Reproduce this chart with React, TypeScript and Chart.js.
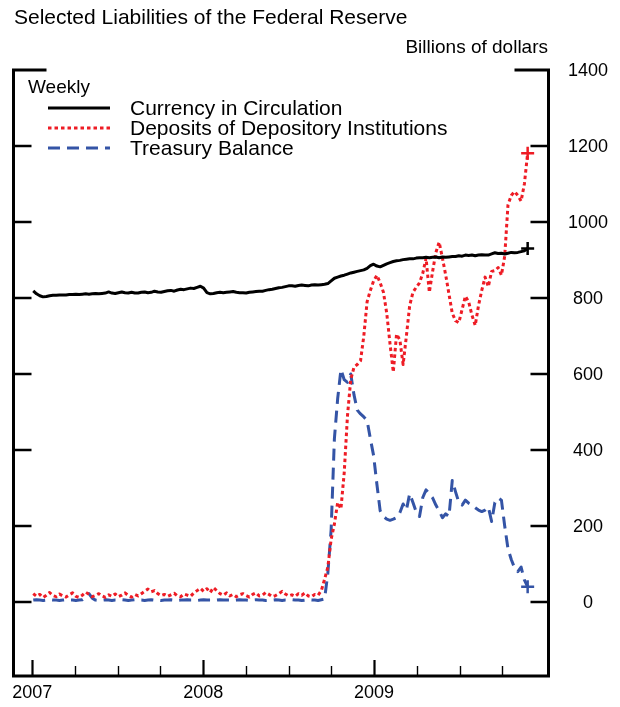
import React, { useEffect, useRef } from "react";
import { Chart, registerables } from "chart.js";

Chart.register(...registerables);

// ---------- data ----------
const START_DATE = Date.UTC(2007, 0, 3);
const WEEK_MS = 7 * 86400000;

const CURRENCY = [
  819, 811, 806, 803, 804, 806, 807, 807, 808, 808,
  808, 809, 809, 810, 809, 810, 811, 810, 811, 812,
  811, 812, 813, 816, 813, 812, 814, 816, 814, 813,
  815, 813, 813, 815, 816, 814, 815, 818, 816, 815,
  817, 819, 820, 818, 821, 823, 822, 824, 826, 825,
  828, 831, 826, 814, 811, 812, 814, 815, 814, 815,
  816, 817, 815, 814, 814, 813, 815, 816, 817, 818,
  818, 820, 822, 823, 825, 827, 828, 830, 832, 832,
  831, 833, 834, 833, 832, 834, 835, 834, 835, 836,
  838, 845, 852, 855, 858, 860, 863, 866, 868, 870,
  872, 874, 878, 885, 889, 884, 882, 886, 890, 893,
  896, 898, 899, 901, 902, 903, 903, 905, 906, 906,
  907, 906, 907, 908, 906, 908, 907, 908, 909, 909,
  911, 910, 913, 912, 913, 911, 913, 914, 913, 913,
  916, 919, 917, 918, 916, 918, 920, 919, 920, 922,
  924, 930,
];

const DEPOSITS = [
  22, 15, 20, 12, 18, 25, 17, 14, 21, 16,
  13, 19, 24, 15, 12, 18, 26, 20, 14, 17,
  22, 16, 12, 19, 15, 21, 14, 18, 24, 17,
  13, 20, 16, 22, 28, 34, 27, 30, 22, 17,
  20, 15, 19, 23, 16, 14, 21, 18, 15, 24,
  30, 36, 28, 35, 25, 38, 30, 22, 18, 24,
  16, 20, 14, 19, 22, 17, 13, 20, 24, 16,
  18, 25, 20, 14, 17, 22, 28, 21, 16, 19,
  15, 22, 18, 24, 16, 14, 20, 18,
  30, 60, 92, 165, 205, 262, 245, 340, 490, 585, 618, 625,
  635, 700, 790, 820, 845, 860, 840, 815, 760, 680,
  605, 705, 690, 625, 700, 780, 815, 828, 840, 865,
  905, 815, 870, 920, 947, 905, 860, 810, 760, 740,
  735, 770, 805, 790, 755, 728, 780, 820, 855, 830,
  870, 872, 880, 860, 910, 1045, 1070, 1080, 1070, 1055,
  1100, 1181,
];

const TREASURY = [
  5, 6, 5, 4, 5, 6, 5, 5, 4, 5,
  6, 5, 5, 4, 5, 6, 12, 22, 10, 5,
  4, 5, 6, 5, 4, 5, 5, 6, 5, 4,
  5, 6, 5, 5, 4, 5, 6, 5, 5, 4,
  5, 5, 6, 5, 4, 5, 5, 6, 5, 5,
  4, 5, 6, 5, 5, 4, 5, 6, 5, 5,
  5, 4, 5, 6, 5, 5, 4, 5, 6, 5,
  5, 4, 5, 5, 6, 5, 4, 5, 5, 6,
  5, 5, 4, 5, 6, 5, 5, 4,
  6, 8, 76, 190, 430, 535, 612, 585, 578, 600, 545, 505,
  495, 487, 478, 430, 385, 310, 240, 225, 218, 215,
  218, 222, 235, 258, 242, 285, 262, 237, 225, 275,
  295, 285, 274, 255, 240, 222, 232, 225, 320, 290,
  262, 255, 268, 260, 255, 248, 242, 238, 242, 250,
  212, 262, 274, 268, 200, 140, 112, 90, 80, 92,
  58, 40,
];

const SERIES_NAMES = [
  "Currency in Circulation",
  "Deposits of Depository Institutions",
  "Treasury Balance",
];
const SERIES_COLORS = ["#000000", "#ee1c25", "#3454a6"];

const Y_TICKS = [0, 200, 400, 600, 800, 1000, 1200, 1400];
const YEAR_TICKS = [2007, 2008, 2009];
const QUARTER_TICKS = [
  2007, 2007.25, 2007.5, 2007.75, 2008, 2008.25, 2008.5, 2008.75,
  2009, 2009.25, 2009.5, 2009.75,
];

const TITLE = "Selected Liabilities of the Federal Reserve";
const UNITS = "Billions of dollars";
const LEGEND_TITLE = "Weekly";

const X_MIN = 2006.887;
const X_MAX = 2010.0177;
const Y_MIN = -194.7;
const Y_MAX = 1400;

const FONT = '"Liberation Sans", Arial, Helvetica, sans-serif';

function toDecimalYear(t: number) {
  const d = new Date(t);
  const y = d.getUTCFullYear();
  const s = Date.UTC(y, 0, 1);
  const e = Date.UTC(y + 1, 0, 1);
  return y + (t - s) / (e - s);
}

const X_VALUES = CURRENCY.map((_, i) => toDecimalYear(START_DATE + i * WEEK_MS));

const DASHES: number[][] = [[], [3.5, 3], [12, 7]];

const overlayPlugin = {
  id: "fedOverlay",
  afterDraw(chart: any) {
    const { ctx, chartArea: a, scales } = chart;
    const xs = scales.x;
    const ys = scales.y;
    ctx.save();
    ctx.strokeStyle = "#000";
    ctx.fillStyle = "#000";

    // frame with corner pieces at the top
    const L = a.left + 0.5;
    const R = a.right + 0.5;
    const B = a.bottom;
    const T = ys.getPixelForValue(1400);
    ctx.lineWidth = 3;
    ctx.lineJoin = "miter";
    ctx.lineCap = "butt";
    ctx.beginPath();
    ctx.moveTo(L + 33, T);
    ctx.lineTo(L, T);
    ctx.lineTo(L, B);
    ctx.lineTo(R, B);
    ctx.lineTo(R, T);
    ctx.lineTo(R - 34, T);
    ctx.stroke();

    // y ticks (inward, both sides)
    ctx.lineWidth = 2.5;
    Y_TICKS.forEach((v) => {
      if (v === 1400) return;
      const y = ys.getPixelForValue(v);
      ctx.beginPath();
      ctx.moveTo(L, y);
      ctx.lineTo(L + 18, y);
      ctx.moveTo(R, y);
      ctx.lineTo(R - 18, y);
      ctx.stroke();
    });

    // x ticks (inward)
    QUARTER_TICKS.forEach((q) => {
      const x = Math.round(xs.getPixelForValue(q)) + 0.5;
      const major = Number.isInteger(q);
      ctx.lineWidth = major ? 2.2 : 1.4;
      ctx.beginPath();
      ctx.moveTo(x, B);
      ctx.lineTo(x, B - (major ? 16 : 10));
      ctx.stroke();
    });

    // tick labels
    ctx.font = `18px ${FONT}`;
    ctx.textAlign = "center";
    ctx.textBaseline = "middle";
    Y_TICKS.forEach((v) => {
      ctx.fillText(String(v), 588, ys.getPixelForValue(v) + 1);
    });
    YEAR_TICKS.forEach((yr) => {
      ctx.fillText(String(yr), xs.getPixelForValue(yr), 693);
    });

    // title and units
    ctx.textAlign = "left";
    ctx.font = `21px ${FONT}`;
    ctx.fillText(TITLE, 14, 18);
    ctx.textAlign = "right";
    ctx.font = `19px ${FONT}`;
    ctx.fillText(UNITS, 548, 48);

    // legend
    ctx.textAlign = "left";
    ctx.font = `19px ${FONT}`;
    ctx.fillText(LEGEND_TITLE, 28, 88);
    ctx.font = `21px ${FONT}`;
    SERIES_NAMES.forEach((name, k) => {
      const y = 108 + k * 20;
      ctx.save();
      ctx.strokeStyle = SERIES_COLORS[k];
      ctx.lineWidth = 3;
      ctx.setLineDash(DASHES[k]);
      ctx.beginPath();
      ctx.moveTo(48, y);
      ctx.lineTo(110, y);
      ctx.stroke();
      ctx.restore();
      ctx.fillText(name, 130, y + 1);
    });

    ctx.restore();
  },
};

export default function App() {
  const ref = useRef<HTMLCanvasElement | null>(null);

  useEffect(() => {
    if (!ref.current) return;
    const series = [CURRENCY, DEPOSITS, TREASURY];
    const chart = new Chart(ref.current, {
      type: "line",
      data: {
        datasets: series.map((vals, k) => ({
          label: SERIES_NAMES[k],
          data: vals.map((v, i) => ({ x: X_VALUES[i], y: v })),
          borderColor: SERIES_COLORS[k],
          backgroundColor: SERIES_COLORS[k],
          borderWidth: 3,
          borderDash: DASHES[k],
          borderCapStyle: "butt" as const,
          borderJoinStyle: "round" as const,
          tension: 0,
          fill: false,
          pointStyle: "cross" as const,
          pointRadius: (c: any) => (c.dataIndex === vals.length - 1 ? 6.5 : 0),
          pointBorderWidth: 2.5,
          pointBorderColor: SERIES_COLORS[k],
          pointHoverRadius: 0,
        })),
      },
      options: {
        responsive: false,
        animation: false,
        devicePixelRatio: 1,
        events: [],
        layout: { padding: { left: 13, right: 72, top: 70, bottom: 31 } },
        plugins: {
          legend: { display: false },
          tooltip: { enabled: false },
          title: { display: false },
        },
        scales: {
          x: { type: "linear", display: false, min: X_MIN, max: X_MAX },
          y: { type: "linear", display: false, min: Y_MIN, max: Y_MAX },
        },
      },
      plugins: [overlayPlugin],
    });
    return () => chart.destroy();
  }, []);

  return (
    <div style={{ position: "absolute", left: 0, top: 0, width: 620, height: 707, background: "#fff" }}>
      <canvas ref={ref} width={620} height={707} style={{ display: "block", width: 620, height: 707 }} />
    </div>
  );
}
